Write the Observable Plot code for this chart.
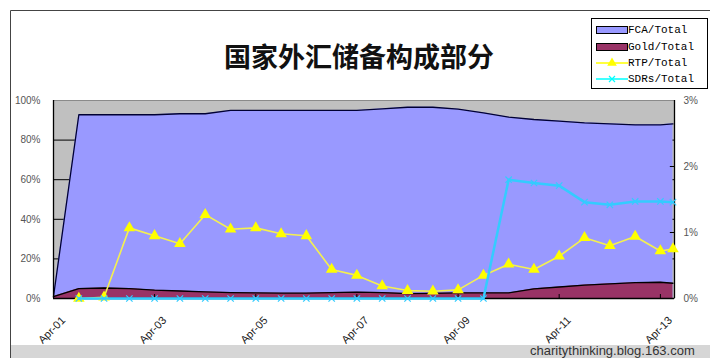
<!DOCTYPE html>
<html><head><meta charset="utf-8">
<script src="https://cdn.jsdelivr.net/npm/d3@7"></script>
<script src="https://cdn.jsdelivr.net/npm/@observablehq/plot@0.6"></script>
<style>
body{margin:0;background:#fff;}
#wrap{position:relative;width:710px;height:358px;overflow:hidden;background:#fff;}
#wrap > svg{position:absolute;left:0;top:0;}
#overlay{pointer-events:none;}
</style></head><body>
<div id="wrap"></div>
<script>
// ---- data ----
const dates = ["2001-04","2001-10","2002-04","2002-10","2003-04","2003-10","2004-04","2004-10",
  "2005-04","2005-10","2006-04","2006-10","2007-04","2007-10","2008-04","2008-10","2009-04","2009-10",
  "2010-04","2010-10","2011-04","2011-10","2012-04","2012-10","2013-04","2013-07"];
const fcaTotal  = [1,92.8,92.8,92.8,92.8,93.3,93.3,95,95,95,95,95,95,95.8,96.6,96.6,95.6,93.8,91.6,90.4,89.6,88.7,88.2,87.7,87.7,88.2];
const goldTotal = [1,5,5.3,5,4.2,3.8,3.3,3,2.8,2.7,2.7,3,3.2,3,2.5,2.6,2.8,2.8,2.8,4.9,5.8,6.8,7.4,8,8.2,7.7];
const rtpTotal  = [null,0,0.02,1.07,0.95,0.83,1.27,1.05,1.07,0.98,0.95,0.44,0.35,0.19,0.12,0.11,0.13,0.35,0.52,0.44,0.64,0.92,0.80,0.94,0.72,0.75];
const sdrTotal  = [null,0,0,0,0,0,0,0,0,0,0,0,0,0,0,0,0,0,1.80,1.75,1.71,1.46,1.42,1.47,1.47,1.46];
const leftTicks = [0,20,40,60,80,100];
const rightTicks = [0,1,2,3];
const xTickDates = ["2001-04","2003-04","2005-04","2007-04","2009-04","2011-04","2013-04"];
const title = "国家外汇储备构成部分";
const seriesNames = ["FCA/Total","Gold/Total","RTP/Total","SDRs/Total"];
const watermark = "charitythinking.blog.163.com";
const colors = {fca:"#9999FF", gold:"#993366", rtp:"#FFFF00", rtpLine:"#F4F050", sdr:"#33CCFF"};

// ---- build ----
const parse = d3.utcParse("%Y-%m");
const rightMax = 3;
const toLeft = v => (v == null ? NaN : v / rightMax * 100);
const rows = dates.map((d,i)=>({date: parse(d), fca: fcaTotal[i], gold: goldTotal[i], rtp: toLeft(rtpTotal[i]), sdr: toLeft(sdrTotal[i])}));
const xDomain = [parse("2001-04"), new Date(Date.UTC(2013,6,12))];
const tickD = xTickDates.map(parse);
const fmt = d3.utcFormat("%b-%y");

const plot = Plot.plot({
  width: 710, height: 358,
  marginLeft: 53, marginRight: 36, marginTop: 100, marginBottom: 60,
  style: {background: "transparent", fontFamily: "'Liberation Sans', Arial, sans-serif", fontSize: "10px", color: "#444", overflow: "visible"},
  x: {type: "utc", domain: xDomain},
  y: {domain: [0, 100]},
  marks: [
    Plot.frame({fill: "#C0C0C0"}),
    Plot.ruleY(leftTicks.filter(t => t > 0 && t < 100), {stroke: "#000", strokeWidth: 1}),
    Plot.areaY(rows, {x: "date", y: "fca", fill: colors.fca}),
    Plot.lineY(rows, {x: "date", y: "fca", stroke: "#000033", strokeWidth: 1.3}),
    Plot.areaY(rows, {x: "date", y: "gold", fill: colors.gold}),
    Plot.lineY(rows, {x: "date", y: "gold", stroke: "#000", strokeWidth: 1.3}),
    Plot.frame({stroke: "#8a8a8a"}),
    Plot.ruleX([xDomain[0], xDomain[1]], {stroke: "#000", strokeWidth: 1.3}),
    Plot.ruleY([0], {stroke: "#000", strokeWidth: 1.3}),
    Plot.ruleX(tickD.slice(1), {y1: 0, y2: 2, stroke: "#000"}),
    Plot.ruleY(rightTicks.slice(1, -1).map(toLeft), {x1: d3.utcDay.offset(xDomain[1], -30), x2: xDomain[1], stroke: "#000"}),
    Plot.lineY(rows, {x: "date", y: "rtp", stroke: colors.rtpLine, strokeWidth: 1.6}),
    Plot.dot(rows, {x: "date", y: "rtp", symbol: "triangle", fill: colors.rtp, r: 4.3}),
    Plot.lineY(rows, {x: "date", y: "sdr", stroke: colors.sdr, strokeWidth: 2.5}),
    Plot.dot(rows, {x: "date", y: "sdr", symbol: "times", stroke: colors.sdr, r: 3, strokeWidth: 1.2}),
    Plot.axisY({anchor: "left", ticks: leftTicks, tickFormat: d => d + "%", tickSize: 0, tickPadding: 13, label: null, fill: "#555"}),
    Plot.axisY({anchor: "right", ticks: rightTicks.map(toLeft), tickFormat: d => Math.round(d * rightMax / 100) + "%", tickSize: 0, tickPadding: 9, label: null, fill: "#555"}),
    Plot.axisX({ticks: tickD, tickFormat: fmt, tickRotate: -45, tickSize: 0, tickPadding: 20, dx: 10, label: null, fill: "#222", fontSize: 11})
  ]
});
const wrap = document.getElementById("wrap");
wrap.appendChild(plot);

// ---- overlay: title, legend, frame, watermark ----
const ov = d3.select(wrap).append("svg").attr("id","overlay").attr("width",710).attr("height",358);
ov.append("rect").attr("x",11).attr("y",345).attr("width",700).attr("height",13).attr("fill","#D6D6D6");
ov.append("line").attr("x1",10.5).attr("y1",10.5).attr("x2",710).attr("y2",10.5).attr("stroke","#444");
ov.append("line").attr("x1",10.5).attr("y1",10.5).attr("x2",10.5).attr("y2",358).attr("stroke","#444");
ov.append("text").attr("x",359).attr("y",55).attr("text-anchor","middle").attr("dominant-baseline","central")
  .attr("font-family","'Noto Sans CJK SC', sans-serif").attr("font-weight","bold").attr("font-size",27).attr("fill","#111").text(title);
ov.append("text").attr("x",530).attr("y",355).attr("font-family","'Liberation Sans', Arial, sans-serif").attr("font-size",13).attr("fill","#333").text(watermark);

const lg = ov.append("g");
lg.append("rect").attr("x",591.5).attr("y",18.5).attr("width",116).attr("height",70).attr("fill","#fff").attr("stroke","#000");
const rowY = [30, 47, 63, 79];
lg.append("rect").attr("x",596.5).attr("y",rowY[0]-3.5).attr("width",31).attr("height",7).attr("fill",colors.fca).attr("stroke","#000");
lg.append("rect").attr("x",596.5).attr("y",rowY[1]-3.5).attr("width",31).attr("height",7).attr("fill",colors.gold).attr("stroke","#000");
lg.append("line").attr("x1",596).attr("x2",628).attr("y1",rowY[2]).attr("y2",rowY[2]).attr("stroke",colors.rtp).attr("stroke-width",1.5);
lg.append("path").attr("d",d3.symbol(d3.symbolTriangle, 40)()).attr("transform",`translate(612,${rowY[2]})`).attr("fill",colors.rtp);
lg.append("line").attr("x1",596).attr("x2",628).attr("y1",rowY[3]).attr("y2",rowY[3]).attr("stroke","#00FFFF").attr("stroke-width",1.5);
lg.append("path").attr("d","M-3,-3L3,3M-3,3L3,-3").attr("transform",`translate(612,${rowY[3]})`).attr("stroke","#00FFFF").attr("stroke-width",1.2);
seriesNames.forEach((n,i)=>{
  lg.append("text").attr("x",628).attr("y",rowY[i]).attr("dominant-baseline","central")
    .attr("font-family","'Liberation Mono', monospace").attr("font-size",11).attr("fill","#000").text(n);
});
</script>
</body></html>
